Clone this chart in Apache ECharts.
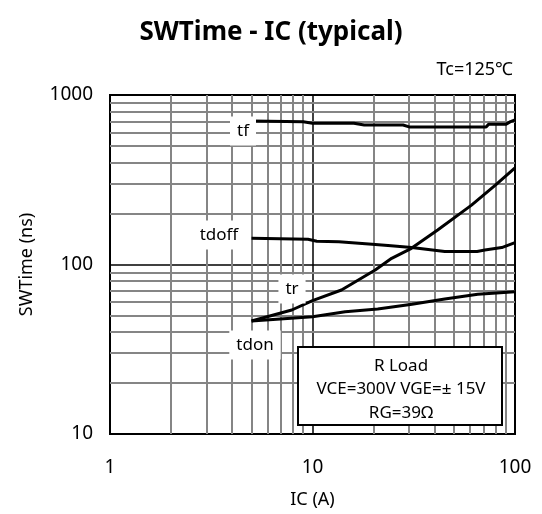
<!DOCTYPE html>
<html>
<head>
<meta charset="utf-8">
<script src="https://cdn.jsdelivr.net/npm/echarts@6/dist/echarts.min.js"></script>
<style>
html,body{margin:0;padding:0;background:#fff;}
#c{width:542px;height:514px;}
</style>
</head>
<body>
<div id="c"></div>
<script>
// ---- data ----
const tfX = [5, 9, 10, 16, 18, 28, 30, 72, 74, 90, 95, 100];
const tfY = [702, 696, 682, 681, 665, 665, 648, 648, 671, 671, 696, 712];
const tdoffX = [5, 9.5, 10.5, 13.5, 19.7, 23.6, 30.9, 45, 65, 71, 86, 100];
const tdoffY = [143, 141, 137, 136, 131.6, 129.3, 125.9, 119.3, 119.3, 121.7, 125.9, 134.7];
const trX = [5, 7.9, 10, 13.9, 20.4, 24.6, 30.8, 41.5, 61, 80, 100];
const trY = [46.4, 53.9, 61.2, 70.7, 92.8, 108.8, 124.6, 159.8, 224, 294, 372];
const tdonX = [5, 10, 14.5, 21, 31, 45, 65.5, 100];
const tdonY = [46.4, 49.2, 52.7, 54.6, 58.2, 62.6, 66.7, 69.1];
const xMinor = [2, 3, 4, 5, 6, 7, 8, 9, 20, 30, 40, 50, 60, 70, 80, 90];
const yMinor = [20, 30, 40, 50, 60, 70, 80, 90, 200, 300, 400, 500, 600, 700, 800, 900];
const xTicks = [1, 10, 100];
const yTicks = [10, 100, 1000];
const curveNames = ['tf', 'tdoff', 'tr', 'tdon'];
const noteLines = ['R Load', 'VCE=300V VGE=± 15V', 'RG=39Ω'];

const FONT = '"Noto Sans", "DejaVu Sans", sans-serif';
const zip = (xs, ys) => xs.map((x, i) => [x, ys[i]]);

const chart = echarts.init(document.getElementById('c'), null, {renderer: 'canvas'});

const curve = (name, xs, ys) => ({
  name, type: 'line', data: zip(xs, ys), symbol: 'none', smooth: false, z: 20,
  lineStyle: {color: '#000', width: 3}, silent: true
});

const gridLines = {
  type: 'line', data: [], z: 1, silent: true,
  markLine: {
    silent: true, symbol: 'none', animation: false,
    label: {show: false},
    lineStyle: {color: '#858585', width: 2, type: 'solid'},
    data: xMinor.map(v => ({xAxis: v})).concat(yMinor.map(v => ({yAxis: v})))
  }
};

const labelStyle = (text, x, y) => ({
  type: 'text', z: 30, x, y,
  style: {
    text, font: '17px ' + FONT, fill: '#000',
    align: 'center', verticalAlign: 'middle',
    backgroundColor: '#fff', padding: [6, 7, 6, 7]
  }
});

chart.setOption({
  animation: false,
  backgroundColor: '#fff',
  grid: {left: 110, right: 27, top: 95, bottom: 80, show: true, borderColor: '#000', borderWidth: 2, backgroundColor: 'transparent'},
  xAxis: {
    type: 'log', logBase: 10, min: xTicks[0], max: xTicks[2],
    name: 'IC (A)', nameLocation: 'middle', nameGap: 57,
    nameTextStyle: {fontFamily: FONT, fontSize: 18, color: '#000'},
    axisLine: {show: false}, axisTick: {show: false},
    axisLabel: {fontFamily: FONT, fontSize: 19, color: '#000', margin: 24, formatter: v => String(v)},
    splitLine: {show: true, lineStyle: {color: '#000', width: 1.5}}
  },
  yAxis: {
    type: 'log', logBase: 10, min: yTicks[0], max: yTicks[2],
    name: 'SWTime (ns)', nameLocation: 'middle', nameGap: 74,
    nameTextStyle: {fontFamily: FONT, fontSize: 18, color: '#000'},
    axisLine: {show: false}, axisTick: {show: false},
    axisLabel: {fontFamily: FONT, fontSize: 19, color: '#000', margin: 17, formatter: v => String(v)},
    splitLine: {show: true, lineStyle: {color: '#000', width: 1.5}}
  },
  series: [
    gridLines,
    curve(curveNames[0], tfX, tfY),
    curve(curveNames[1], tdoffX, tdoffY),
    curve(curveNames[2], trX, trY),
    curve(curveNames[3], tdonX, tdonY)
  ],
  graphic: [
    {type: 'text', x: 271, y: 33, z: 30, style: {text: 'SWTime - IC (typical)', font: 'bold 26px ' + FONT, fill: '#000', align: 'center', verticalAlign: 'middle'}},
    {type: 'text', x: 513, y: 70, z: 30, style: {text: 'Tc=125℃', font: '18px ' + FONT, fill: '#000', align: 'right', verticalAlign: 'middle'}},
    labelStyle(curveNames[0], 243, 131),
    labelStyle(curveNames[1], 219, 235),
    labelStyle(curveNames[2], 292, 289),
    labelStyle(curveNames[3], 255, 345),
    {type: 'rect', z: 30, shape: {x: 298, y: 347, width: 204, height: 78}, style: {fill: '#fff', stroke: '#000', lineWidth: 2}},
    {type: 'text', z: 31, x: 401, y: 366, style: {text: noteLines[0], font: '17px ' + FONT, fill: '#000', align: 'center', verticalAlign: 'middle'}},
    {type: 'text', z: 31, x: 401, y: 389, style: {text: noteLines[1], font: '17px ' + FONT, fill: '#000', align: 'center', verticalAlign: 'middle'}},
    {type: 'text', z: 31, x: 401, y: 413, style: {text: noteLines[2], font: '17px ' + FONT, fill: '#000', align: 'center', verticalAlign: 'middle'}}
  ]
});
</script>
</body>
</html>
